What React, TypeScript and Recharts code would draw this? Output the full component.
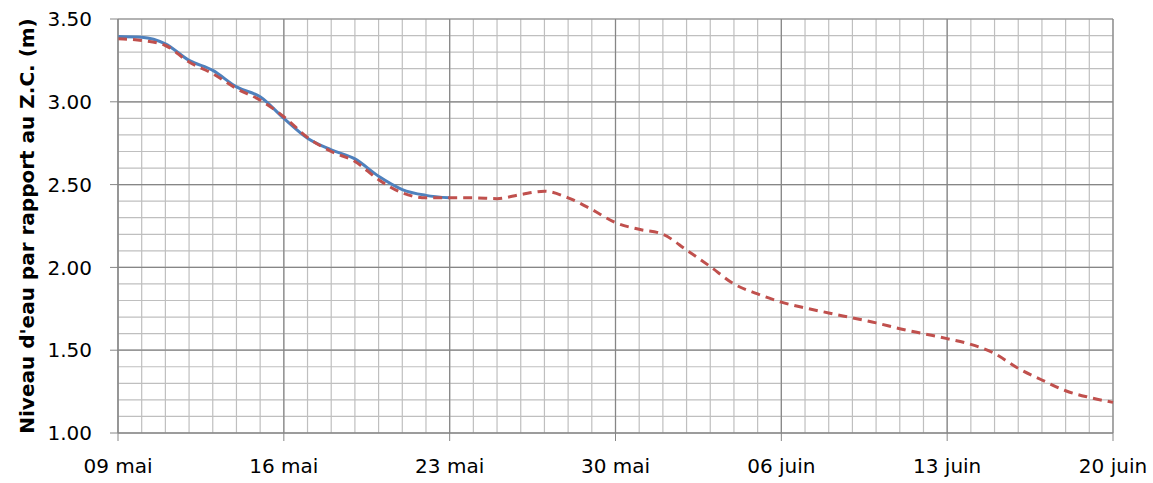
import { LineChart, Line, XAxis, YAxis, CartesianGrid } from 'recharts';

// day offsets from 09 mai
const days = Array.from({ length: 43 }, (_, i) => i);

const observed = [
  3.395, 3.39, 3.35, 3.25, 3.19, 3.09, 3.03, 2.9, 2.78, 2.71, 2.655, 2.55, 2.47, 2.435, 2.42,
];

const forecast = [
  3.38, 3.37, 3.34, 3.24, 3.17, 3.08, 3.01, 2.91, 2.785, 2.7, 2.64, 2.53, 2.45, 2.42, 2.42,
  2.42, 2.415, 2.44, 2.46, 2.42, 2.35, 2.27, 2.23, 2.2, 2.105, 2.005, 1.9, 1.84, 1.79, 1.755,
  1.725, 1.695, 1.665, 1.63, 1.6, 1.57, 1.535, 1.48, 1.39, 1.32, 1.255, 1.215, 1.185,
];

const xTicks = [0, 7, 14, 21, 28, 35, 42];
const xTickLabels = ['09 mai', '16 mai', '23 mai', '30 mai', '06 juin', '13 juin', '20 juin'];
const yTicks = [1, 1.5, 2, 2.5, 3, 3.5];

const minorX = days;
const minorY = Array.from({ length: 26 }, (_, i) => Math.round((1 + i * 0.1) * 10) / 10);

const data = days.map((d, i) => ({
  day: d,
  observed: i < observed.length ? observed[i] : null,
  forecast: forecast[i],
}));

const FONT = '"DejaVu Sans", sans-serif';
const TITLE = "Niveau d'eau par rapport au Z.C. (m)";

const YTitle = (props: any) => {
  const vb = props.viewBox || { y: 19, height: 414 };
  const x = 33.5;
  const y = vb.y + vb.height / 2;
  return (
    <text
      x={x}
      y={y}
      transform={`rotate(-90 ${x} ${y})`}
      textAnchor="middle"
      fill="#000"
      fontFamily={FONT}
      fontSize={20}
      fontWeight="bold"
    >
      {TITLE}
    </text>
  );
};

export default function App() {
  return (
    <div style={{ position: 'absolute', left: 0, top: 0, background: '#fff' }}>
      <LineChart
        width={1153}
        height={483}
        data={data}
        margin={{ top: 19, right: 40, bottom: 0, left: 0 }}
      >
        <XAxis xAxisId="minor" type="number" dataKey="day" domain={[0, 42]} ticks={minorX} hide />
        <YAxis
          yAxisId="minor"
          type="number"
          dataKey="forecast"
          domain={[1, 3.5]}
          ticks={minorY}
          interval={0}
          allowDataOverflow
          hide
        />
        <CartesianGrid xAxisId="minor" yAxisId="minor" stroke="#BFBFBF" strokeWidth={1.2} />
        <CartesianGrid stroke="#868686" strokeWidth={1.2} />
        <XAxis
          type="number"
          dataKey="day"
          domain={[0, 42]}
          ticks={xTicks}
          tickFormatter={(v: number) => xTickLabels[xTicks.indexOf(v)]}
          height={50}
          tickSize={8}
          tickMargin={18}
          stroke="#868686"
          tick={{ fill: '#000', fontSize: 20, fontFamily: FONT }}
        />
        <YAxis
          type="number"
          domain={[1, 3.5]}
          ticks={yTicks}
          tickFormatter={(v: number) => v.toFixed(2)}
          width={118}
          tickSize={8}
          tickMargin={18}
          stroke="#868686"
          tick={{ fill: '#000', fontSize: 20, fontFamily: FONT }}
          label={{ content: YTitle }}
        />
        <Line
          type="monotone"
          dataKey="observed"
          stroke="#4F81BD"
          strokeWidth={3}
          dot={false}
          isAnimationActive={false}
        />
        <Line
          type="monotone"
          dataKey="forecast"
          stroke="#C0504D"
          strokeWidth={3}
          strokeDasharray="9 6"
          dot={false}
          isAnimationActive={false}
        />
      </LineChart>
    </div>
  );
}
